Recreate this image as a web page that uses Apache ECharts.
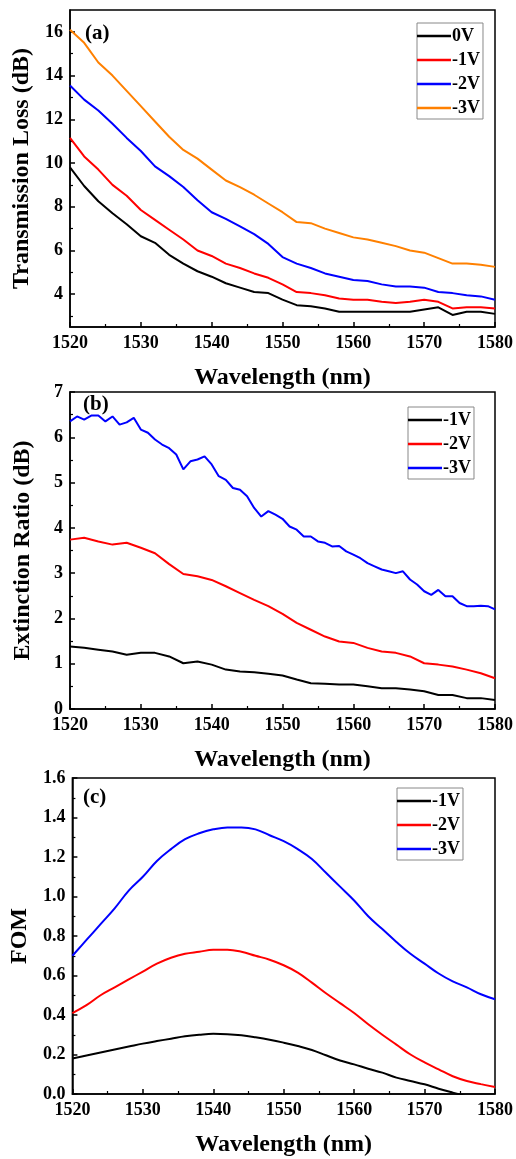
<!DOCTYPE html>
<html><head><meta charset="utf-8">
<script src="https://cdn.jsdelivr.net/npm/echarts@6/dist/echarts.min.js"></script>
<style>html,body{margin:0;padding:0;background:#fff}#c{width:516px;height:1159px}</style>
</head><body><div id="c"></div><script>
// ---------- data ----------
const wl2 = [1520,1522,1524,1526,1528,1530,1532,1534,1536,1538,1540,1542,1544,1546,1548,1550,1552,1554,1556,1558,1560,1562,1564,1566,1568,1570,1572,1574,1576,1578,1580];
const wl1 = [1520,1521,1522,1523,1524,1525,1526,1527,1528,1529,1530,1531,1532,1533,1534,1535,1536,1537,1538,1539,1540,1541,1542,1543,1544,1545,1546,1547,1548,1549,1550,1551,1552,1553,1554,1555,1556,1557,1558,1559,1560,1561,1562,1563,1564,1565,1566,1567,1568,1569,1570,1571,1572,1573,1574,1575,1576,1577,1578,1579,1580];

// (a) Transmission loss (dB)
const loss0V = [9.8,8.95,8.25,7.7,7.2,6.65,6.35,5.8,5.4,5.05,4.8,4.5,4.3,4.1,4.05,3.75,3.5,3.45,3.35,3.2,3.2,3.2,3.2,3.2,3.2,3.3,3.4,3.05,3.2,3.2,3.1];
const loss1V = [11.15,10.3,9.7,9.0,8.5,7.85,7.4,6.95,6.5,6.0,5.75,5.4,5.2,4.95,4.75,4.45,4.1,4.05,3.95,3.8,3.75,3.75,3.65,3.6,3.65,3.75,3.65,3.35,3.4,3.4,3.35];
const loss2V = [13.55,12.9,12.4,11.8,11.15,10.55,9.85,9.4,8.9,8.3,7.75,7.45,7.1,6.75,6.3,5.7,5.4,5.2,4.95,4.8,4.65,4.6,4.45,4.35,4.35,4.3,4.1,4.05,3.95,3.9,3.75];
const loss3V = [16.1,15.5,14.6,14.0,13.3,12.6,11.9,11.2,10.6,10.2,9.7,9.2,8.9,8.55,8.15,7.75,7.3,7.25,7.0,6.8,6.6,6.5,6.35,6.2,6.0,5.9,5.65,5.4,5.4,5.35,5.25];

// (b) Extinction ratio (dB)
const er1V = [1.38,1.35,1.31,1.27,1.2,1.24,1.24,1.16,1.01,1.05,0.98,0.87,0.83,0.81,0.78,0.74,0.65,0.57,0.56,0.54,0.54,0.5,0.46,0.46,0.43,0.39,0.31,0.31,0.24,0.24,0.2];
const er2V = [3.74,3.78,3.7,3.63,3.67,3.56,3.44,3.2,2.98,2.93,2.85,2.71,2.56,2.41,2.27,2.1,1.9,1.75,1.6,1.49,1.46,1.35,1.27,1.24,1.16,1.01,0.98,0.94,0.87,0.79,0.68];
const er3V = [6.35,6.46,6.39,6.48,6.48,6.35,6.46,6.28,6.33,6.43,6.17,6.1,5.95,5.84,5.76,5.62,5.29,5.47,5.51,5.58,5.4,5.14,5.06,4.88,4.84,4.7,4.44,4.25,4.37,4.29,4.2,
              4.03,3.96,3.81,3.81,3.7,3.67,3.59,3.6,3.48,3.41,3.33,3.22,3.15,3.08,3.04,3.0,3.04,2.86,2.75,2.6,2.52,2.63,2.49,2.49,2.34,2.27,2.27,2.28,2.27,2.2];

// (c) FOM
const fom1V = [0.18,0.195,0.21,0.225,0.24,0.255,0.268,0.28,0.292,0.30,0.305,0.303,0.297,0.287,0.275,0.26,0.243,0.223,0.196,0.17,0.15,0.128,0.108,0.083,0.066,0.049,0.027,0.007,-0.012,-0.03,-0.05];
const fom2V = [0.41,0.45,0.50,0.54,0.58,0.62,0.66,0.69,0.71,0.72,0.73,0.73,0.72,0.70,0.68,0.652,0.615,0.564,0.51,0.46,0.41,0.353,0.30,0.25,0.20,0.16,0.125,0.09,0.066,0.05,0.035];
const fom3V = [0.70,0.78,0.86,0.94,1.03,1.10,1.18,1.24,1.29,1.32,1.34,1.35,1.35,1.34,1.31,1.28,1.24,1.19,1.12,1.05,0.98,0.90,0.835,0.77,0.71,0.66,0.61,0.57,0.54,0.505,0.48];

// ticks / labels
const yTicksA = [4,6,8,10,12,14,16];
const yMinorA = [3,5,7,9,11,13,15];
const legendA = ['0V','-1V','-2V','-3V'];
const legendB = ['-1V','-2V','-3V'];
const legendC = ['-1V','-2V','-3V'];
const panelLabels = ['(a)','(b)','(c)'];
const xTitle = 'Wavelength (nm)';
const yTitles = ['Transmission Loss (dB)','Extinction Ratio (dB)','FOM'];

// ---------- chart ----------
const FF = '"Liberation Serif","Times New Roman",serif';
const BLACK = '#000000', RED = '#ff0000', BLUE = '#0000ff', ORANGE = '#ff8000';
const pair = (xs, ys) => xs.map((x, i) => [x, ys[i]]);

const grids = [
  {left: 70, width: 426, top: 10, height: 317},
  {left: 70, width: 426, top: 392, height: 317},
  {left: 70, width: 426, top: 778, height: 316}
].map(g => Object.assign({show: true, borderColor: '#000', borderWidth: 1.5, backgroundColor: 'transparent'}, g));

const labelStyle = {color: '#000', fontFamily: FF, fontWeight: 'bold', fontSize: 18};
const nameStyle = {color: '#000', fontFamily: FF, fontWeight: 'bold', fontSize: 24};

const xAxes = [0,1,2].map(i => ({
  type: 'value', gridIndex: i, min: 1520, max: 1580, interval: 10,
  axisLine: {show: true, lineStyle: {color: '#000', width: 1.5}},
  axisTick: {show: true, inside: true, length: 5, lineStyle: {color: '#000', width: 1.5}},
  minorTick: {show: true, splitNumber: 2, length: 3, lineStyle: {color: '#000', width: 1.2}},
  splitLine: {show: false},
  axisLabel: Object.assign({margin: 7, formatter: v => String(v)}, labelStyle),
  name: xTitle, nameLocation: 'middle', nameGap: 39, nameTextStyle: nameStyle
}));

const yCommon = {
  type: 'value',
  axisLine: {show: true, lineStyle: {color: '#000', width: 1.5}},
  splitLine: {show: false},
  nameLocation: 'middle', nameTextStyle: nameStyle
};

const yAxes = [
  Object.assign({}, yCommon, {
    gridIndex: 0, min: 2.5, max: 17,
    axisTick: {show: true, inside: true, length: 5, customValues: yTicksA, lineStyle: {color: '#000', width: 1.5}},
    axisLabel: Object.assign({margin: 7, customValues: yTicksA}, labelStyle),
    name: yTitles[0], nameGap: 35
  }),
  {
    type: 'value', gridIndex: 0, min: 2.5, max: 17, position: 'left',
    axisLine: {show: false}, splitLine: {show: false}, axisLabel: {show: false},
    axisTick: {show: true, inside: true, length: 3, customValues: yMinorA, lineStyle: {color: '#000', width: 1.2}}
  },
  Object.assign({}, yCommon, {
    gridIndex: 1, min: 0, max: 7, interval: 1,
    axisTick: {show: true, inside: true, length: 5, lineStyle: {color: '#000', width: 1.5}},
    minorTick: {show: true, splitNumber: 2, length: 3, lineStyle: {color: '#000', width: 1.2}},
    axisLabel: Object.assign({margin: 7}, labelStyle),
    name: yTitles[1], nameGap: 35
  }),
  Object.assign({}, yCommon, {
    gridIndex: 2, min: 0, max: 1.6, interval: 0.2,
    axisTick: {show: true, inside: true, length: 5, lineStyle: {color: '#000', width: 1.5}},
    minorTick: {show: true, splitNumber: 2, length: 3, lineStyle: {color: '#000', width: 1.2}},
    axisLabel: Object.assign({margin: 7, formatter: v => v.toFixed(1)}, labelStyle),
    name: yTitles[2], nameGap: 40
  })
];

function line(name, xi, yi, data, color, smooth) {
  return {
    name: name, type: 'line', xAxisIndex: xi, yAxisIndex: yi, data: data,
    symbol: 'none', smooth: smooth || false, clip: true, animation: false,
    lineStyle: {color: color, width: 2}, itemStyle: {color: color}
  };
}

const series = [
  line('a:' + legendA[0], 0, 0, pair(wl2, loss0V), BLACK),
  line('a:' + legendA[1], 0, 0, pair(wl2, loss1V), RED),
  line('a:' + legendA[2], 0, 0, pair(wl2, loss2V), BLUE),
  line('a:' + legendA[3], 0, 0, pair(wl2, loss3V), ORANGE),
  line('b:' + legendB[0], 1, 2, pair(wl2, er1V), BLACK),
  line('b:' + legendB[1], 1, 2, pair(wl2, er2V), RED),
  line('b:' + legendB[2], 1, 2, pair(wl1, er3V), BLUE),
  line('c:' + legendC[0], 2, 3, pair(wl2, fom1V), BLACK, 0.4),
  line('c:' + legendC[1], 2, 3, pair(wl2, fom2V), RED, 0.4),
  line('c:' + legendC[2], 2, 3, pair(wl2, fom3V), BLUE, 0.4)
];

function legend(prefix, names, left, top) {
  return {
    data: names.map(n => ({name: prefix + ':' + n, icon: 'rect'})), orient: 'vertical', left: left, top: top,
    itemWidth: 34, itemHeight: 2.5, itemGap: 6, selectedMode: false,
    formatter: n => n.split(':')[1],
    textStyle: {color: '#000', fontFamily: FF, fontWeight: 'bold', fontSize: 18, padding: [0,0,0,-4]},
    borderColor: '#888', borderWidth: 1, padding: [4, 3, 2, 0], backgroundColor: '#fff'
  };
}

const chart = echarts.init(document.getElementById('c'), null, {renderer: 'canvas'});
chart.setOption({
  backgroundColor: '#fff',
  animation: false,
  grid: grids,
  xAxis: xAxes,
  yAxis: yAxes,
  legend: [legend('a', legendA, 417, 23), legend('b', legendB, 408, 407), legend('c', legendC, 397, 788)],
  graphic: [
    {type: 'text', left: 85, top: 23, style: {text: panelLabels[0], fill: '#000', font: 'bold 21px ' + FF}},
    {type: 'text', left: 83, top: 394, style: {text: panelLabels[1], fill: '#000', font: 'bold 21px ' + FF}},
    {type: 'text', left: 83, top: 787, style: {text: panelLabels[2], fill: '#000', font: 'bold 21px ' + FF}}
  ],
  series: series
});
</script></body></html>
